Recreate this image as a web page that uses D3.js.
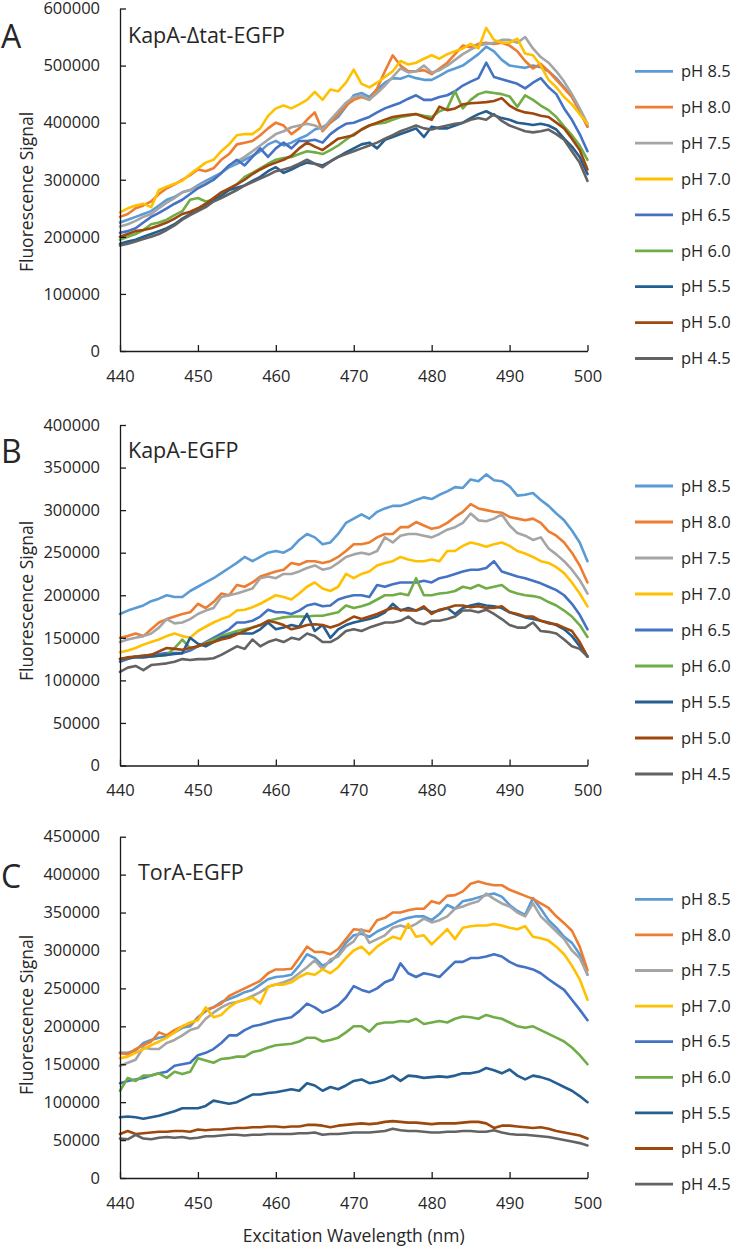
<!DOCTYPE html>
<html><head><meta charset="utf-8">
<script src="https://cdn.jsdelivr.net/npm/d3@7"></script>
<style>
body{margin:0;background:#fff}
svg{display:block}
text{font-family:"Open Sans",sans-serif;fill:#262626}
</style>
</head><body>
<svg id="chart" width="733" height="1247"></svg>
<script>
// ---------------- DATA (values in thousands) ----------------
const wavelengths = d3.range(440, 501);
const xTicks = [440, 450, 460, 470, 480, 490, 500];
const seriesLabels = ["pH 8.5","pH 8.0","pH 7.5","pH 7.0","pH 6.5","pH 6.0","pH 5.5","pH 5.0","pH 4.5"];
const seriesColors = ["#5B9BD5","#ED7D31","#A5A5A5","#FFC000","#4472C4","#70AD47","#255E91","#9E480E","#636363"];
const panelLetters = ["A","B","C"];
const panelTitles = ["KapA-Δtat-EGFP","KapA-EGFP","TorA-EGFP"];
const yTicksA = [0,100000,200000,300000,400000,500000,600000];
const yTicksB = [0,50000,100000,150000,200000,250000,300000,350000,400000];
const yTicksC = [0,50000,100000,150000,200000,250000,300000,350000,400000,450000];

// Panel A: KapA-Δtat-EGFP
const A_pH85 = [225,230,235,240,245,255,265,270,278,282,290,298,305,312,322,328,335,342,350,362,368,360,365,372,378,388,392,400,410,428,448,452,445,458,470,478,477,482,478,475,475,482,490,495,500,510,520,533,525,510,500,498,496,500,497,490,478,462,445,420,393];
const A_pH80 = [235,240,250,255,262,275,285,292,300,308,318,315,320,335,345,362,365,368,378,390,400,395,380,390,405,418,385,400,415,430,440,445,440,460,490,518,500,490,490,492,485,495,505,520,535,532,538,540,538,540,535,525,508,495,503,490,475,460,445,420,393];
const A_pH75 = [218,222,228,235,240,250,260,268,278,282,288,295,300,312,325,332,340,350,360,370,380,385,392,395,398,395,388,405,420,435,445,448,440,452,465,480,495,488,490,500,488,492,500,510,520,528,535,538,540,545,545,540,550,530,515,505,490,472,450,425,398];
const A_pH70 = [243,250,255,258,252,282,288,293,298,310,320,330,335,350,362,378,380,380,390,412,425,430,425,432,440,454,440,458,455,470,493,468,462,470,480,490,508,502,505,512,518,512,520,525,530,538,530,566,545,540,540,547,521,518,500,475,462,445,432,415,398];
const A_pH65 = [207,210,215,225,235,242,250,258,265,275,285,292,300,312,325,335,325,340,355,340,355,365,355,368,368,370,365,380,390,398,400,405,410,418,425,430,435,442,448,440,440,445,448,455,465,472,478,505,480,476,472,468,460,470,478,462,450,425,405,380,350];
const A_pH60 = [195,200,205,212,222,225,230,238,245,265,268,262,265,275,282,292,305,312,320,328,335,338,340,345,350,348,345,352,360,370,380,388,395,398,400,405,410,412,415,412,410,420,425,455,425,440,450,454,452,450,446,428,448,440,430,422,410,393,378,360,335];
const A_pH55 = [188,192,195,200,205,210,215,222,232,240,248,255,265,272,282,286,290,298,305,315,322,312,318,325,330,328,325,332,340,348,355,362,365,355,370,375,380,385,390,375,393,390,390,395,400,408,415,420,413,408,405,400,398,396,398,395,388,372,358,340,310];
const A_pH50 = [200,205,210,212,215,220,225,232,240,244,250,258,268,278,285,292,300,310,318,325,330,335,342,355,365,358,352,362,372,375,378,388,395,400,405,410,412,414,415,410,405,428,422,425,432,434,435,436,438,443,430,422,418,416,412,410,400,390,372,352,318];
const A_pH45 = [185,188,192,196,200,205,212,220,230,238,245,252,262,268,275,282,290,296,302,308,315,318,322,328,335,328,322,332,340,345,350,355,360,365,372,378,385,390,395,390,388,392,395,398,400,405,408,405,415,403,395,390,385,383,385,388,380,370,350,330,298];

// Panel B: KapA-EGFP
const B_pH85 = [178,182,185,188,193,196,200,198,198,205,210,215,220,226,232,238,245,240,245,250,252,250,255,265,272,268,260,262,272,285,290,295,290,298,302,305,305,308,312,315,313,318,322,327,326,336,334,342,335,334,328,317,318,320,312,305,296,288,276,262,240];
const B_pH80 = [150,152,155,152,160,168,172,175,178,180,190,185,192,202,200,212,210,215,222,225,228,230,238,236,240,240,238,240,245,252,260,260,262,268,272,272,280,280,286,282,278,280,285,292,298,307,302,300,298,297,292,290,288,290,285,275,270,262,250,235,215];
const B_pH75 = [145,148,150,152,155,162,172,167,168,172,178,182,185,198,200,202,205,208,220,222,220,225,225,228,232,235,230,232,238,245,248,250,248,252,268,262,270,272,272,270,268,272,277,280,285,296,288,287,290,295,282,273,270,265,268,255,248,240,230,218,202];
const B_pH70 = [133,135,138,142,145,148,152,155,152,150,158,163,168,172,175,182,183,186,190,195,200,198,195,202,210,215,208,205,210,225,220,225,228,235,238,240,245,242,240,240,242,240,252,252,258,262,260,257,260,262,258,252,249,245,240,238,233,226,215,202,187];
const B_pH65 = [122,125,128,129,130,131,132,132,132,135,140,145,150,155,160,168,168,170,175,183,180,180,178,182,188,190,187,188,195,198,200,200,198,212,210,213,215,215,215,217,215,220,222,225,228,230,230,232,240,228,225,222,220,217,214,210,206,200,190,177,160];
const B_pH60 = [125,126,128,128,128,129,130,138,148,138,140,144,148,152,155,158,160,162,165,170,172,174,175,175,175,176,176,178,180,188,185,187,190,195,200,200,202,200,220,200,200,202,203,205,210,208,212,208,210,212,205,202,200,199,197,192,188,182,175,165,151];
const B_pH55 = [125,126,127,127,128,129,130,131,132,150,143,140,145,150,152,155,155,155,160,168,160,162,165,163,178,158,165,150,160,165,168,170,172,175,180,190,182,185,182,185,180,182,185,178,185,188,190,188,187,185,180,177,174,172,170,168,165,160,152,140,128];
const B_pH50 = [125,127,128,129,130,134,138,137,136,138,140,143,145,148,150,154,158,162,165,170,168,165,160,162,165,166,165,162,165,170,175,172,175,178,182,185,183,182,182,187,178,183,185,188,188,186,187,185,185,187,180,178,175,175,170,167,166,162,158,145,128];
const B_pH45 = [110,115,117,112,118,119,120,122,125,124,125,125,126,130,135,140,137,148,140,145,148,145,150,148,155,152,145,145,150,158,160,158,162,165,168,168,170,175,168,166,170,170,172,175,182,182,180,183,178,172,165,162,162,168,158,157,155,148,140,137,128];

// Panel C: TorA-EGFP
const C_pH85 = [165,165,168,178,182,185,187,192,198,200,212,220,225,232,236,240,245,248,255,262,265,266,268,280,295,290,280,285,295,310,320,322,318,325,330,335,340,343,345,345,340,348,360,355,365,367,370,373,375,371,360,352,347,369,355,340,330,318,310,295,268];
const C_pH80 = [165,163,170,175,180,192,188,195,200,203,210,222,225,230,240,245,250,255,260,270,275,275,276,290,305,298,298,295,302,315,328,327,325,340,343,350,350,353,355,355,365,362,372,373,378,388,391,388,386,386,380,376,372,368,362,356,345,336,326,305,274];
const C_pH75 = [148,152,156,172,170,170,178,182,188,195,198,210,218,225,230,232,235,240,245,252,255,258,262,270,278,287,275,288,292,305,312,328,310,315,320,330,333,330,335,342,337,340,345,355,358,362,365,375,368,362,358,350,345,362,345,335,325,315,300,290,268];
const C_pH70 = [158,160,165,170,175,180,185,192,200,205,208,225,212,215,225,232,235,238,230,252,255,255,258,265,270,268,275,270,278,290,300,305,295,305,312,318,315,335,318,320,308,318,328,315,330,332,333,333,335,333,330,328,332,318,316,313,305,295,280,262,235];
const C_pH65 = [125,128,130,132,135,138,140,148,150,152,162,165,170,178,188,188,195,200,202,205,208,210,212,220,230,225,218,222,228,238,253,248,245,250,258,262,283,270,265,270,268,265,275,285,285,290,290,292,295,292,285,280,278,275,270,262,255,248,235,222,208];
const C_pH60 = [115,132,128,135,135,138,132,140,137,140,158,155,152,157,158,160,160,166,168,172,175,176,177,180,185,185,180,182,185,192,200,200,193,203,205,205,207,206,210,203,205,207,205,210,213,212,210,215,212,210,205,200,198,200,195,190,185,180,172,162,150];
const C_pH55 = [80,81,80,78,80,82,85,88,92,92,92,95,102,100,98,100,105,110,110,112,113,115,117,115,125,122,115,120,117,122,128,130,125,127,130,135,128,135,134,132,133,134,133,135,138,138,140,145,142,138,143,135,130,135,133,130,125,120,115,108,100];
const C_pH50 = [58,62,58,59,60,61,61,62,62,61,64,63,64,64,65,66,66,67,67,68,68,67,68,68,70,70,69,67,69,70,71,72,71,72,74,75,74,73,73,72,71,72,72,72,73,74,74,72,66,69,69,68,67,66,67,65,62,60,58,56,52];
const C_pH45 = [52,51,57,52,51,53,54,53,54,52,53,55,55,56,57,57,56,57,57,58,58,58,58,59,59,60,57,58,58,59,60,60,60,61,62,65,63,62,62,61,60,60,61,61,62,62,61,61,63,60,58,57,57,56,55,54,52,50,48,46,43];

const panelSeries = [
  [A_pH85,A_pH80,A_pH75,A_pH70,A_pH65,A_pH60,A_pH55,A_pH50,A_pH45],
  [B_pH85,B_pH80,B_pH75,B_pH70,B_pH65,B_pH60,B_pH55,B_pH50,B_pH45],
  [C_pH85,C_pH80,C_pH75,C_pH70,C_pH65,C_pH60,C_pH55,C_pH50,C_pH45]
];
const panelYTicks = [yTicksA, yTicksB, yTicksC];

// ---------------- LAYOUT ----------------
const layout = [
  {top: 8.5, bottom: 351, letterY: 48, titleX: 128, titleY: 43, yTitleY: 192, legendY0: 71.3, legendStep: 35.9},
  {top: 425, bottom: 765.5, letterY: 463, titleX: 128, titleY: 458, yTitleY: 601, legendY0: 486, legendStep: 36},
  {top: 836.7, bottom: 1178, letterY: 888, titleX: 138, titleY: 880, yTitleY: 1015, legendY0: 899.3, legendStep: 35.6}
];
const plotLeft = 120, plotRight = 587.5;

const svg = d3.select("#chart");
const x = d3.scaleLinear().domain([440, 500]).range([plotLeft, plotRight]);

panelSeries.forEach((seriesSet, p) => {
  const L = layout[p];
  const ticks = panelYTicks[p];
  const y = d3.scaleLinear().domain([0, ticks[ticks.length - 1]]).range([L.bottom, L.top]);
  const g = svg.append("g");

  // series lines
  const line = d3.line()
    .x((d, i) => x(wavelengths[i]))
    .y(d => y(d * 1000));
  seriesSet.forEach((vals, s) => {
    g.append("path")
      .datum(vals)
      .attr("fill", "none")
      .attr("stroke", seriesColors[s])
      .attr("stroke-width", 2.6)
      .attr("stroke-linejoin", "round")
      .attr("stroke-linecap", "round")
      .attr("d", line);
  });

  // y axis
  const yAxis = d3.axisLeft(y).tickValues(ticks).tickSizeInner(-6).tickSizeOuter(0).tickPadding(20)
    .tickFormat(d3.format("d"));
  const ya = g.append("g").attr("transform", `translate(${plotLeft},0)`).call(yAxis);
  ya.selectAll("path,line").attr("stroke", "#1a1a1a").attr("stroke-width", 1.3);
  ya.selectAll("text").attr("font-size", 16.5).attr("fill", "#262626").style("font-family", '"Open Sans",sans-serif');

  // x axis
  const xAxis = d3.axisBottom(x).tickValues(xTicks).tickSizeInner(-6).tickSizeOuter(0).tickPadding(19)
    .tickFormat(d3.format("d"));
  const xa = g.append("g").attr("transform", `translate(0,${L.bottom})`).call(xAxis);
  xa.selectAll("path,line").attr("stroke", "#1a1a1a").attr("stroke-width", 1.3);
  xa.selectAll("text").attr("font-size", 16.5).attr("fill", "#262626").style("font-family", '"Open Sans",sans-serif');

  // panel letter
  g.append("text").attr("x", 1).attr("y", L.letterY).attr("font-size", 32).text(panelLetters[p]);
  // panel title
  g.append("text").attr("x", L.titleX).attr("y", L.titleY).attr("font-size", 21.5).text(panelTitles[p]);
  // y axis title
  g.append("text")
    .attr("transform", `translate(33,${L.yTitleY}) rotate(-90)`)
    .attr("text-anchor", "middle")
    .attr("font-size", 17.5)
    .text("Fluorescence Signal");

  // legend
  seriesLabels.forEach((lab, s) => {
    const ly = L.legendY0 + s * L.legendStep;
    g.append("line").attr("x1", 635).attr("x2", 673).attr("y1", ly).attr("y2", ly)
      .attr("stroke", seriesColors[s]).attr("stroke-width", 2.8);
    g.append("text").attr("x", 681).attr("y", ly).attr("dy", "0.35em").attr("font-size", 16.5).text(lab);
  });
});

// x axis title
svg.append("text").attr("x", (plotLeft + plotRight) / 2).attr("y", 1242)
  .attr("text-anchor", "middle").attr("font-size", 17.5).text("Excitation Wavelength (nm)");
</script>
</body></html>
